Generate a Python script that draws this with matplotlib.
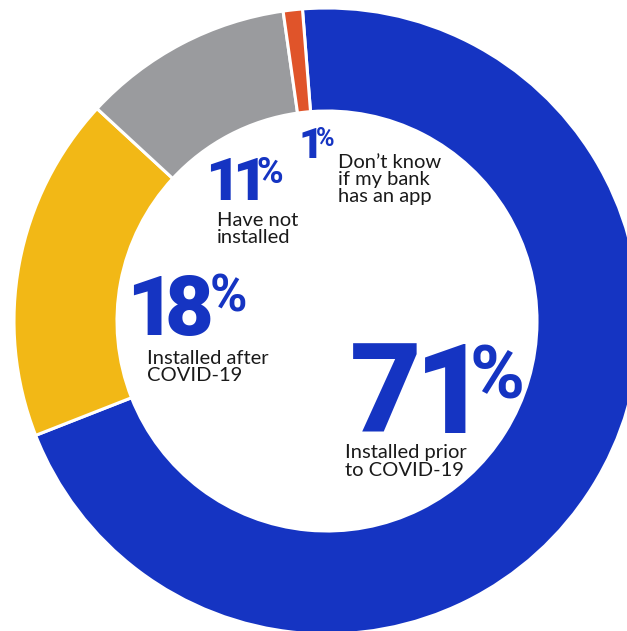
import matplotlib.pyplot as plt
from matplotlib.font_manager import FontProperties
from matplotlib.textpath import TextPath

# survey shares, clockwise from the top
labels = ["Installed prior\nto COVID-19", "Installed after\nCOVID-19",
          "Have not\ninstalled", "Don\u2019t know\nif my bank\nhas an app"]
values = [71, 18, 11, 1]
colors = ["#1534c2", "#f2b816", "#9a9b9e", "#e0542a"]

W, H = 627, 631
fig = plt.figure(figsize=(W / 100, H / 100), dpi=100)
ax = fig.add_axes([0, 0, 1, 1])

cx, cy = 327, H - 321
ax.pie(values, colors=colors, startangle=94.5, counterclock=False,
       center=(cx, cy), radius=313,
       wedgeprops=dict(width=103, edgecolor="white", linewidth=2.2))
ax.set_xlim(0, W)
ax.set_ylim(0, H)
ax.set_aspect("equal")
ax.axis("off")

blue = "#1534c2"
num_prop = FontProperties(family="Roboto", weight="heavy")
pct_prop = FontProperties(family="Roboto", weight="bold")

# (x, top y of digits, digit height, gap before %, label x, label top y, line spacing)
layout = [
    (353, 345, 88, 7, 345, 447, 1.05),
    (133, 275, 60, 2, 147, 353, 1.0),
    (210, 157, 43, 1.5, 217, 215, 0.98),
    (302, 128, 30, 1, 338, 157, 1.0),
]


def ink(ch, px, prop):
    # ink box of one glyph, in pixels from its pen origin
    return TextPath((0, 0), ch, size=px, prop=prop).get_extents()


def big_number(x, ytop, h, pgap, digits):
    # digits set one by one on their ink, so the "1"s stay narrow
    px = h / 0.711
    base = H - ytop - h
    cur = x
    for ch in digits:
        e = ink(ch, px, num_prop)
        ax.text(cur - e.x0, base, ch, fontsize=px * 0.72, fontproperties=num_prop,
                color=blue, ha="left", va="baseline")
        cur += e.width + 6 + 0.03 * h
    cur -= 6 + 0.03 * h
    # raised % sign, top lined up with the digits
    ppx = px * 0.6
    e = ink("%", ppx, pct_prop)
    ax.text(cur + pgap - e.x0, H - ytop - e.y1, "%", fontsize=ppx * 0.72,
            fontproperties=pct_prop, color=blue, ha="left", va="baseline")


for v, lab, (x, ytop, h, pgap, lx, ly, ls) in zip(values, labels, layout):
    big_number(x, ytop, h, pgap, str(v))
    ax.text(lx, H - ly + 3, lab, fontsize=14.5, family="Lato", color="#1a1a1a",
            ha="left", va="top", linespacing=ls)

fig.savefig("out.png", dpi=100)
